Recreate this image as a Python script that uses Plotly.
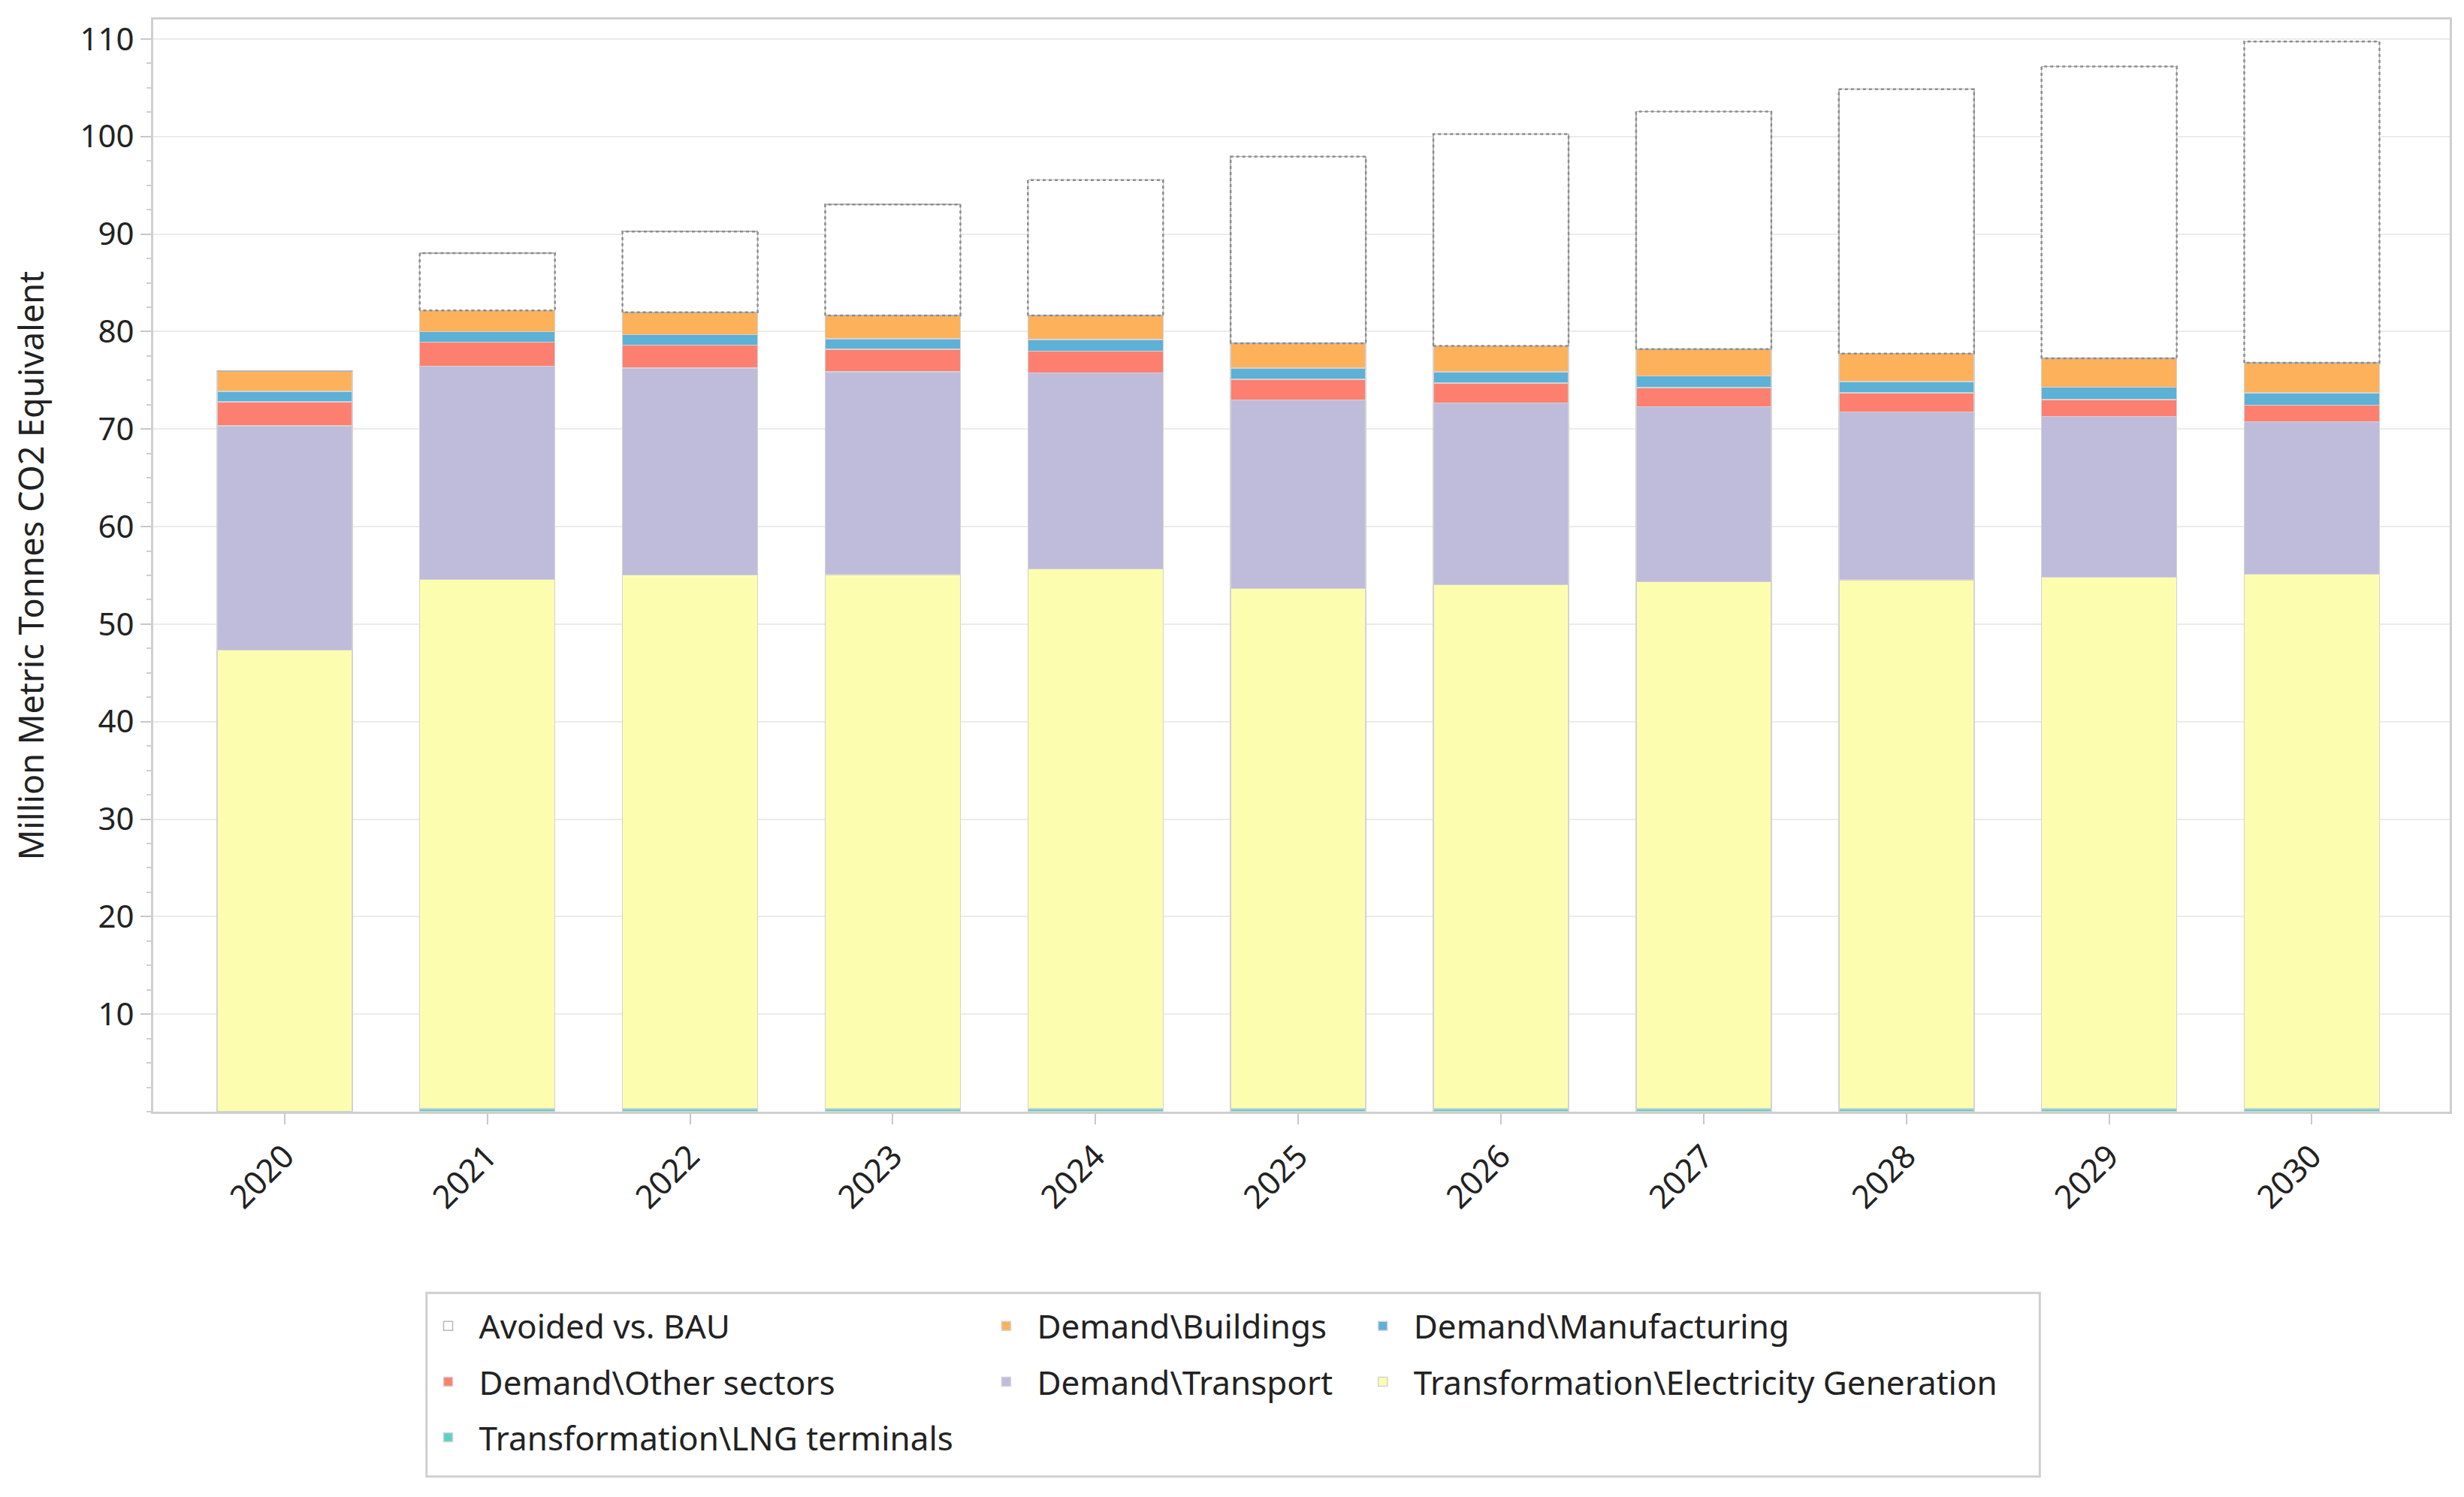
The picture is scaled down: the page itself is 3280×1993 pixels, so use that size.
import plotly.graph_objects as go

years = ["2020", "2021", "2022", "2023", "2024", "2025", "2026", "2027", "2028", "2029", "2030"]

lng_terminals = [0.0, 0.3, 0.3, 0.3, 0.3, 0.3, 0.3, 0.3, 0.3, 0.3, 0.3]
electricity_generation = [47.34, 54.26, 54.73, 54.76, 55.35, 53.35, 53.74, 54.04, 54.25, 54.50, 54.80]
transport = [22.99, 21.89, 21.22, 20.83, 20.11, 19.33, 18.63, 17.95, 17.22, 16.50, 15.67]
other_sectors = [2.45, 2.45, 2.35, 2.31, 2.24, 2.12, 2.06, 1.98, 1.93, 1.73, 1.69]
manufacturing = [1.11, 1.10, 1.10, 1.08, 1.18, 1.17, 1.16, 1.18, 1.16, 1.28, 1.26]
buildings = [2.05, 2.17, 2.27, 2.37, 2.47, 2.53, 2.65, 2.75, 2.89, 2.95, 3.08]
avoided_vs_bau = [0.0, 5.88, 8.29, 11.39, 13.89, 19.14, 21.71, 24.36, 27.11, 29.92, 32.94]

y_ticks = [10, 20, 30, 40, 50, 60, 70, 80, 90, 100, 110]

FONT = "Noto Sans"
TXT = "#222222"
BAR_W = 0.667
x_idx = list(range(len(years)))

series = [
    # name, values, color, legend, rank
    ("Transformation\\LNG terminals", lng_terminals, "#5BD2C0", "legend", 3),
    ("Transformation\\Electricity Generation", electricity_generation, "#FDFDB0", "legend3", 2),
    ("Demand\\Transport", transport, "#BFBBDA", "legend2", 2),
    ("Demand\\Other sectors", other_sectors, "#FD7F70", "legend", 2),
    ("Demand\\Manufacturing", manufacturing, "#5DB0D6", "legend3", 1),
    ("Demand\\Buildings", buildings, "#FDB15A", "legend2", 1),
]

fig = go.Figure()
for name, vals, color, leg, rank in series:
    fig.add_trace(go.Bar(
        x=x_idx, y=vals, name=name, width=BAR_W,
        marker=dict(color=color, line=dict(color="#D3D3D3", width=1.5)),
        legend=leg, legendrank=rank, legendgroup=name,
    ))

# Avoided vs BAU (white box with dotted outline)
fig.add_trace(go.Bar(
    x=x_idx, y=avoided_vs_bau, name="Avoided vs. BAU", width=BAR_W,
    marker=dict(color="white", line=dict(color="#B8B8B8", width=1.5)),
    legend="legend", legendrank=1, legendgroup="Avoided vs. BAU",
))

# dotted outline following the avoided bars
base = [sum(s[1][i] for s in series) for i in x_idx]
ox, oy = [], []
for i in x_idx:
    if avoided_vs_bau[i] > 0:
        b = base[i]
        t = b + avoided_vs_bau[i]
        ox += [i - BAR_W / 2, i - BAR_W / 2, i + BAR_W / 2, i + BAR_W / 2, i - BAR_W / 2, None]
        oy += [b, t, t, b, b, None]
fig.add_trace(go.Scatter(
    x=ox, y=oy, mode="lines", showlegend=False, hoverinfo="skip",
    line=dict(color="#8C8C8C", width=2.5, dash="4px,4px"),
))

# vertical gridline at first category
fig.add_vline(x=x_idx[0], line=dict(color="rgba(170,170,170,0.45)", width=2), layer="above")

leg_common = dict(
    orientation="v", yanchor="top", xanchor="left",
    font=dict(family=FONT, size=44, color=TXT),
    bgcolor="rgba(0,0,0,0)", borderwidth=0,
    traceorder="grouped", tracegroupgap=14, itemwidth=72,
)

fig.update_layout(
    width=3280, height=1993,
    margin=dict(l=196, r=27, t=18, b=521),
    paper_bgcolor="white", plot_bgcolor="white",
    barmode="stack", bargap=0.33,
    font=dict(family=FONT, size=42, color=TXT),
    xaxis=dict(
        range=[-0.648, 10.68], tickmode="array", tickvals=x_idx, ticktext=years,
        tickangle=-45, ticks="outside", ticklen=14, tickwidth=2, tickcolor="#C8C8C8",
        showgrid=False, zeroline=False,
        showline=True, linecolor="#CFCFCF", linewidth=3, mirror=True,
        tickfont=dict(family=FONT, size=43, color=TXT),
    ),
    yaxis=dict(
        range=[0, 112], tickmode="array", tickvals=y_ticks,
        ticks="outside", ticklen=14, tickwidth=2, tickcolor="#C8C8C8",
        minor=dict(dtick=2.5, tick0=0, ticks="outside", ticklen=6, tickwidth=2, tickcolor="#D0D0D0", showgrid=False),
        showgrid=True, gridcolor="#EBEBEB", gridwidth=2, zeroline=False,
        showline=True, linecolor="#CFCFCF", linewidth=3, mirror=True,
        tickfont=dict(family=FONT, size=42, color=TXT),
        title=dict(text="Million Metric Tonnes CO2 Equivalent", standoff=34,
                   font=dict(family=FONT, size=45, color=TXT)),
    ),
    legend=dict(x=0.1150, y=-0.172, **leg_common),
    legend2=dict(x=0.3580, y=-0.172, **leg_common),
    legend3=dict(x=0.5220, y=-0.172, **leg_common),
    shapes=[dict(type="rect", xref="paper", yref="paper",
                 x0=0.1190, x1=0.8215, y0=-0.334, y1=-0.166,
                 line=dict(color="#CFCFCF", width=3), fillcolor="rgba(0,0,0,0)", layer="below")],
)

fig.write_html("out.html")
